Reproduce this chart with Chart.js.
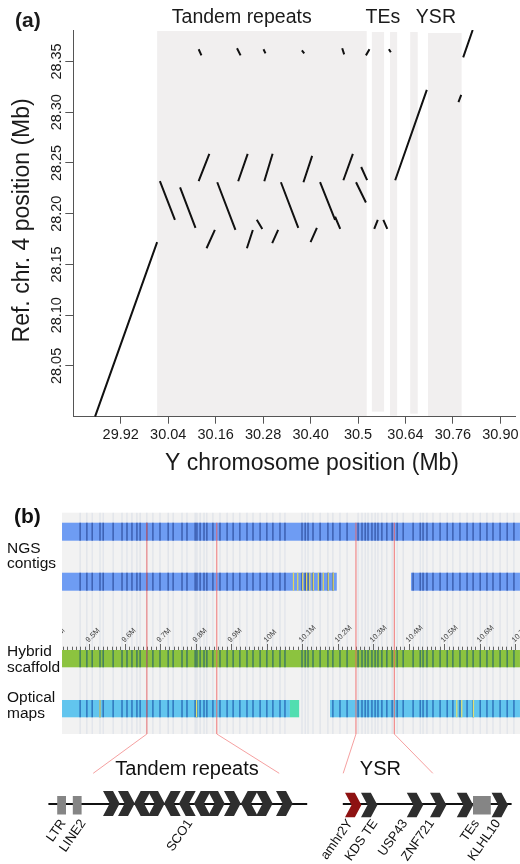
<!DOCTYPE html>
<html><head><meta charset="utf-8">
<script src="https://cdn.jsdelivr.net/npm/chart.js@4.4.1/dist/chart.umd.min.js"></script>
<style>
html,body{margin:0;padding:0;background:#fff;}
#wrap{position:relative;width:520px;height:864px;overflow:hidden;}
#c1{position:absolute;left:0;top:0;}
#c2{position:absolute;left:0;top:490px;}
</style></head><body>
<div id="wrap"><canvas id="c1" width="520" height="490"></canvas><canvas id="c2" width="520" height="374"></canvas></div>
<script>
// ---------- Panel (a) data ----------
const xTickValues = [29.92, 30.04, 30.16, 30.28, 30.40, 30.52, 30.64, 30.76, 30.88];
const xTickLabels = ['29.92', '30.04', '30.16', '30.28', '30.40', '30.5', '30.64', '30.76', '30.90'];
const yTickValues = [28.05, 28.10, 28.15, 28.20, 28.25, 28.30, 28.35];
const yTickLabels = ['28.05', '28.10', '28.15', '28.20', '28.25', '28.30', '28.35'];
const regionNames = ['Tandem repeats', 'TEs', 'YSR'];
const regionNameX = [30.226, 30.583, 30.717];
// shaded blocks: [xStart, xEnd, yBottom, yTop]
const shadedBlocks = [
  [30.012, 30.542, 28.000, 28.380],
  [30.555, 30.586, 28.005, 28.379],
  [30.601, 30.619, 28.001, 28.379],
  [30.652, 30.671, 28.003, 28.379],
  [30.697, 30.782, 28.000, 28.378]
];
// alignment segments: [x1, y1, x2, y2] in Mb
const flankSegments = [
  [29.855, 28.000, 30.012, 28.172],
  [30.614, 28.233, 30.694, 28.322],
  [30.774, 28.310, 30.781, 28.317],
  [30.786, 28.354, 30.810, 28.381]
];
const upperRowSegments = [
  [30.117, 28.362, 30.124, 28.356],
  [30.214, 28.363, 30.223, 28.356],
  [30.281, 28.362, 30.286, 28.358],
  [30.378, 28.361, 30.384, 28.358],
  [30.480, 28.363, 30.485, 28.357],
  [30.540, 28.356, 30.549, 28.362],
  [30.598, 28.362, 30.603, 28.359]
];
const middleRowSegments = [
  [30.117, 28.232, 30.144, 28.259],
  [30.217, 28.232, 30.241, 28.259],
  [30.283, 28.232, 30.304, 28.259],
  [30.382, 28.231, 30.404, 28.257],
  [30.483, 28.233, 30.507, 28.259],
  [30.528, 28.246, 30.543, 28.233]
];
const descendingSegments = [
  [30.019, 28.232, 30.057, 28.194],
  [30.070, 28.226, 30.109, 28.186],
  [30.164, 28.231, 30.210, 28.184],
  [30.325, 28.231, 30.369, 28.186],
  [30.424, 28.231, 30.462, 28.194],
  [30.462, 28.197, 30.475, 28.185],
  [30.515, 28.231, 30.540, 28.211]
];
const lowerRowSegments = [
  [30.264, 28.194, 30.278, 28.185],
  [30.137, 28.166, 30.158, 28.184],
  [30.239, 28.166, 30.254, 28.184],
  [30.303, 28.171, 30.318, 28.184],
  [30.400, 28.172, 30.416, 28.186],
  [30.561, 28.185, 30.570, 28.194],
  [30.584, 28.194, 30.594, 28.185]
];

// ---------- Panel (b) data ----------
const ngsRow1 = [[9.423, 10.713]];
const ngsRow2 = [[9.423, 10.197], [10.406, 10.713]];
const hybridScaffold = [[9.423, 10.713]];
const opticalMaps = [[9.423, 10.065], [10.178, 10.713]];
const opticalTail = [[10.065, 10.091]];
const alignedFeatures = [9.474, 9.493, 9.508, 9.530, 9.539, 9.567, 9.592, 9.606, 9.620, 9.634, 9.643, 9.662,
  9.679, 9.699, 9.722, 9.736, 9.761, 9.775, 9.798, 9.803, 9.812, 9.823, 9.831, 9.848, 9.868, 9.888, 9.905,
  9.924, 9.944, 9.961, 9.981, 10.000, 10.017, 10.037, 10.051, 10.099, 10.108, 10.116, 10.130, 10.150,
  10.172, 10.186, 10.206, 10.226, 10.257, 10.268, 10.277, 10.285, 10.296, 10.305, 10.313, 10.324, 10.338,
  10.353, 10.367, 10.384, 10.412, 10.432, 10.440, 10.451, 10.468, 10.488, 10.508, 10.524, 10.544, 10.564,
  10.581, 10.601, 10.620, 10.637, 10.657, 10.677, 10.696];
const ngsYellowStripes = [10.075, 10.087, 10.101, 10.112, 10.121, 10.131, 10.145, 10.159, 10.173, 10.187];
const opticalYellowStripes = [9.530, 9.802, 10.535, 10.549, 10.582];
const rulerMajor = [9.4, 9.5, 9.6, 9.7, 9.8, 9.9, 10.0, 10.1, 10.2, 10.3, 10.4, 10.5, 10.6, 10.7];
const rulerLabels = ['9.4M', '9.5M', '9.6M', '9.7M', '9.8M', '9.9M', '10M', '10.1M', '10.2M', '10.3M', '10.4M', '10.5M', '10.6M', '10.7M'];
const breakpoints = [9.662, 9.859, 10.251, 10.359];
const breakpointDiagramX = [23.3, 69.8, 85.8, 108.2];
// gene diagram (diagram units)
const backbones = [[12.1, 76.8], [85.7, 127.9]];
const repeatBoxes = [[14.3, 16.5], [18.2, 20.4], [118.25, 122.7]];
const tandemChevronStart = [25.75, 29.5, 33.5, 37, 41, 44.75, 48.5, 52, 56, 60.25, 64, 69];
const tandemChevronDir = ['R', 'R', 'L', 'R', 'L', 'L', 'L', 'R', 'R', 'L', 'R', 'R'];
const ysrChevronStart = [86.25, 90.25, 101.7, 107.5, 114.2, 122.9];
const ysrChevronColor = ['#8e1212', '#2e2e2e', '#2e2e2e', '#2e2e2e', '#2e2e2e', '#2e2e2e'];
const geneLabels = ['LTR', 'LINE2', 'SCO1', 'amhr2Y', 'KDS TE', 'USP43', 'ZNF721', 'TEs', 'KLHL10'];
const geneLabelX = [15.8, 20.8, 47.5, 87.5, 93.75, 101.25, 107.9, 119.2, 124.5];
const diagramTitles = ['Tandem repeats', 'YSR'];
const diagramTitleX = [46.75, 95.1];
const trackNames = [['NGS', 'contigs'], ['Hybrid', 'scaffold'], ['Optical', 'maps']];

const FONT = '"Liberation Sans", Arial, Helvetica, sans-serif';

// ---------- Panel (a) ----------
function segData(list) {
  const d = [];
  list.forEach(s => { d.push({x: s[0], y: s[1]}, {x: s[2], y: s[3]}, {x: s[2], y: null}); });
  return d;
}
const segStyle = {showLine: true, borderColor: '#111', borderWidth: 2, pointRadius: 0, pointHoverRadius: 0, spanGaps: false};

const panelAPlugin = {
  id: 'panelA',
  beforeDraw(chart) {
    const ctx = chart.ctx, sx = chart.scales.x, sy = chart.scales.y;
    ctx.save();
    ctx.fillStyle = '#f1efef';
    shadedBlocks.forEach(b => {
      const x1 = sx.getPixelForValue(b[0]), x2 = sx.getPixelForValue(b[1]);
      const yT = sy.getPixelForValue(b[3]), yB = sy.getPixelForValue(b[2]);
      ctx.fillRect(x1, yT, x2 - x1, yB - yT);
    });
    ctx.restore();
  },
  afterDraw(chart) {
    const ctx = chart.ctx, sx = chart.scales.x, sy = chart.scales.y, ca = chart.chartArea;
    ctx.save();
    ctx.fillStyle = '#1a1a1a';
    ctx.font = '14.5px ' + FONT;
    ctx.textAlign = 'center'; ctx.textBaseline = 'middle';
    xTickValues.forEach((v, i) => ctx.fillText(xTickLabels[i], sx.getPixelForValue(v), ca.bottom + 18.5));
    yTickValues.forEach((v, i) => {
      ctx.save(); ctx.translate(ca.left - 16, sy.getPixelForValue(v)); ctx.rotate(-Math.PI / 2);
      ctx.fillText(yTickLabels[i], 0, 0); ctx.restore();
    });
    ctx.font = '23px ' + FONT;
    ctx.fillText('Y chromosome position (Mb)', 312, ca.bottom + 46.5);
    ctx.save(); ctx.translate(23, (ca.top + ca.bottom) / 2 - 3); ctx.rotate(-Math.PI / 2);
    ctx.fillText('Ref. chr. 4 position (Mb)', 0, 0); ctx.restore();
    ctx.font = '19.5px ' + FONT;
    regionNames.forEach((n, i) => ctx.fillText(n, sx.getPixelForValue(regionNameX[i]), ca.top - 12));
    ctx.font = 'bold 21px ' + FONT;
    ctx.textAlign = 'left';
    ctx.fillText('(a)', 15, 21.5);
    ctx.restore();
  }
};

new Chart(document.getElementById('c1'), {
  type: 'scatter',
  data: {datasets: [
    Object.assign({label: 'flank', data: segData(flankSegments)}, segStyle),
    Object.assign({label: 'upper', data: segData(upperRowSegments)}, segStyle),
    Object.assign({label: 'middle', data: segData(middleRowSegments)}, segStyle),
    Object.assign({label: 'descending', data: segData(descendingSegments)}, segStyle),
    Object.assign({label: 'lower', data: segData(lowerRowSegments)}, segStyle)
  ]},
  options: {
    responsive: false, animation: false, events: [],
    layout: {padding: {left: 65.3, right: 5, top: 30, bottom: 66.3}},
    plugins: {legend: {display: false}, tooltip: {enabled: false}},
    scales: {
      x: {type: 'linear', min: 29.80, max: 30.917,
        afterBuildTicks: s => { s.ticks = xTickValues.map(v => ({value: v})); },
        ticks: {display: false},
        grid: {drawOnChartArea: false, drawTicks: true, tickLength: 7, color: '#555', lineWidth: 1},
        border: {display: true, color: '#555', width: 1}},
      y: {type: 'linear', min: 28.0, max: 28.381,
        afterBuildTicks: s => { s.ticks = yTickValues.map(v => ({value: v})); },
        ticks: {display: false},
        grid: {drawOnChartArea: false, drawTicks: true, tickLength: 8, color: '#555', lineWidth: 1},
        border: {display: true, color: '#555', width: 1}}
    }
  },
  plugins: [panelAPlugin]
});

// ---------- Panel (b) ----------
const L = { // layout rows (canvas-2 y units, downward)
  panelTop: 22.7, panelBottom: 244,
  ngs1: [32.7, 50.7], ngs2: [82.7, 100.7], hybrid: [160, 177.3], optical: [210, 227.3],
  rulerText: 152.7, rulerMajorTop: 154, rulerMinorTop: 156.7, rulerBottom: 160,
  diagBottom: 283.3, titleY: 279, backbone: 314, chevTop: 301, chevBottom: 326,
  ysrTop: 302.7, ysrBottom: 327.3, boxTop: 306, boxBottom: 324.5, labelY: 331
};

const panelBPlugin = {
  id: 'panelB',
  afterDraw(chart) {
    const ctx = chart.ctx, sx = chart.scales.x, sg = chart.scales.xg, sy = chart.scales.y;
    const X = v => sx.getPixelForValue(v), G = v => sg.getPixelForValue(v), Y = v => sy.getPixelForValue(v);
    const pL = X(9.423), pR = X(10.713), pT = Y(L.panelTop), pB = Y(L.panelBottom);
    ctx.save();
    // background panel
    ctx.fillStyle = '#f2f2f2';
    ctx.fillRect(pL, pT, pR - pL, pB - pT);
    // faint alignment lines
    ctx.strokeStyle = 'rgba(170,186,212,0.32)'; ctx.lineWidth = 1;
    alignedFeatures.forEach(f => { ctx.beginPath(); ctx.moveTo(X(f), pT); ctx.lineTo(X(f), pB); ctx.stroke(); });

    function track(segs, row, base, stripeColor, extra, extraColor) {
      const t = Y(row[0]), b = Y(row[1]);
      segs.forEach(s => {
        const a = X(s[0]), e = X(s[1]);
        ctx.fillStyle = base; ctx.fillRect(a, t, e - a, b - t);
        ctx.fillStyle = stripeColor;
        alignedFeatures.forEach(f => { if (f > s[0] && f < s[1]) ctx.fillRect(X(f) - 0.75, t, 1.5, b - t); });
        if (extra) { ctx.fillStyle = extraColor;
          extra.forEach(f => { if (f > s[0] && f < s[1]) ctx.fillRect(X(f) - 0.6, t, 1.2, b - t); }); }
      });
    }
    track(ngsRow1, L.ngs1, '#6e9cf3', 'rgba(38,70,150,0.7)');
    track(ngsRow2, L.ngs2, '#6e9cf3', 'rgba(38,70,150,0.7)', ngsYellowStripes, '#e3d95c');
    track(hybridScaffold, L.hybrid, '#8cc33f', 'rgba(35,95,110,0.7)');
    track(opticalMaps, L.optical, '#62c5ee', 'rgba(28,88,170,0.72)', opticalYellowStripes, '#e3e070');
    opticalTail.forEach(s => { ctx.fillStyle = '#52deb0'; ctx.fillRect(X(s[0]), Y(L.optical[0]), X(s[1]) - X(s[0]), Y(L.optical[1]) - Y(L.optical[0])); });

    // ruler
    ctx.save();
    ctx.beginPath(); ctx.rect(pL, pT, pR - pL, pB - pT); ctx.clip();
    ctx.strokeStyle = '#666'; ctx.lineWidth = 1;
    for (let v = 9.4; v <= 10.72; v += 0.0125) {
      const x = Math.round(X(v)) + 0.5;
      ctx.beginPath(); ctx.moveTo(x, Y(L.rulerMinorTop)); ctx.lineTo(x, Y(L.rulerBottom)); ctx.stroke();
    }
    ctx.fillStyle = '#444'; ctx.font = '7.5px ' + FONT; ctx.textAlign = 'left'; ctx.textBaseline = 'alphabetic';
    rulerMajor.forEach((v, i) => {
      const x = Math.round(X(v)) + 0.5;
      ctx.beginPath(); ctx.moveTo(x, Y(L.rulerMajorTop)); ctx.lineTo(x, Y(L.rulerBottom)); ctx.stroke();
      ctx.save(); ctx.translate(x - 1, Y(L.rulerText)); ctx.rotate(-Math.PI / 4);
      ctx.fillText(rulerLabels[i], 0, 0); ctx.restore();
    });
    ctx.restore();

    // breakpoint red lines
    ctx.lineWidth = 1;
    breakpoints.forEach((b, i) => {
      ctx.strokeStyle = 'rgba(240,95,95,0.85)';
      ctx.beginPath(); ctx.moveTo(X(b), Y(L.ngs1[0])); ctx.lineTo(X(b), pB); ctx.stroke();
      ctx.strokeStyle = 'rgba(244,150,150,0.9)';
      ctx.beginPath(); ctx.moveTo(X(b), pB); ctx.lineTo(G(breakpointDiagramX[i]), Y(L.diagBottom)); ctx.stroke();
    });

    // gene diagram backbone
    ctx.strokeStyle = '#111'; ctx.lineWidth = 2;
    backbones.forEach(s => { ctx.beginPath(); ctx.moveTo(G(s[0]), Y(L.backbone)); ctx.lineTo(G(s[1]), Y(L.backbone)); ctx.stroke(); });
    ctx.fillStyle = '#858585';
    repeatBoxes.forEach(s => ctx.fillRect(G(s[0]), Y(L.boxTop), G(s[1]) - G(s[0]), Y(L.boxBottom) - Y(L.boxTop)));
    function chevron(x0, w, top, bot, dir, color) {
      const mid = (top + bot) / 2;
      ctx.fillStyle = color; ctx.beginPath();
      if (dir === 'R') {
        ctx.moveTo(x0, top); ctx.lineTo(x0 + 0.6 * w, top); ctx.lineTo(x0 + w, mid);
        ctx.lineTo(x0 + 0.6 * w, bot); ctx.lineTo(x0, bot); ctx.lineTo(x0 + 0.4 * w, mid);
      } else {
        ctx.moveTo(x0 + w, top); ctx.lineTo(x0 + 0.4 * w, top); ctx.lineTo(x0, mid);
        ctx.lineTo(x0 + 0.4 * w, bot); ctx.lineTo(x0 + w, bot); ctx.lineTo(x0 + 0.6 * w, mid);
      }
      ctx.closePath(); ctx.fill();
    }
    tandemChevronStart.forEach((s, i) => chevron(G(s), G(s + 4.17) - G(s), Y(L.chevTop), Y(L.chevBottom), tandemChevronDir[i], '#2e2e2e'));
    ysrChevronStart.forEach((s, i) => chevron(G(s), G(s + 4.1) - G(s), Y(L.ysrTop), Y(L.ysrBottom), 'R', ysrChevronColor[i]));

    // texts
    ctx.fillStyle = '#111';
    ctx.font = '13px ' + FONT; ctx.textAlign = 'right'; ctx.textBaseline = 'middle';
    geneLabels.forEach((t, i) => {
      ctx.save(); ctx.translate(G(geneLabelX[i]), Y(L.labelY)); ctx.rotate(-55 * Math.PI / 180);
      ctx.fillText(t, 0, 0); ctx.restore();
    });
    ctx.font = '20px ' + FONT; ctx.textAlign = 'center';
    diagramTitles.forEach((t, i) => ctx.fillText(t, G(diagramTitleX[i]), Y(L.titleY)));
    ctx.font = '15.5px ' + FONT; ctx.textAlign = 'left';
    const nameRows = [[58.5, 74], [161.5, 177.5], [207.5, 223.5]];
    trackNames.forEach((n, i) => { ctx.fillText(n[0], 7, Y(nameRows[i][0])); ctx.fillText(n[1], 7, Y(nameRows[i][1])); });
    ctx.font = 'bold 21px ' + FONT;
    ctx.fillText('(b)', 14, Y(27));
    ctx.restore();
  }
};

new Chart(document.getElementById('c2'), {
  type: 'scatter',
  data: {datasets: [{label: 'tracks', data: [], xAxisID: 'x', yAxisID: 'y'}]},
  options: {
    responsive: false, animation: false, events: [],
    layout: {padding: 0},
    plugins: {legend: {display: false}, tooltip: {enabled: false}},
    scales: {
      x: {type: 'linear', min: 9.2483, max: 10.7131, display: false},
      xg: {type: 'linear', axis: 'x', min: 0, max: 130, display: false},
      y: {type: 'linear', min: 0, max: 374, reverse: true, display: false}
    }
  },
  plugins: [panelBPlugin]
});
</script>
</body></html>
